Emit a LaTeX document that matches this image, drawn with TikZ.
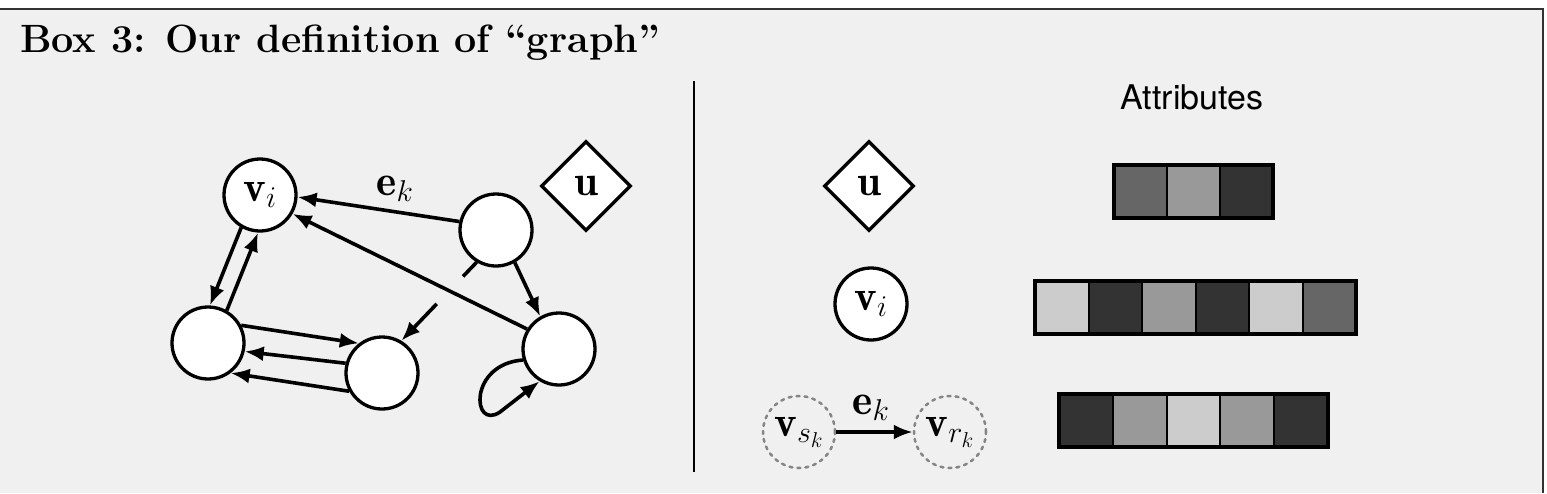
\RequirePackage{fix-cm}
\documentclass[tikz,border=0pt]{standalone}
\usepackage{fontspec}
\newfontfamily\attrfont{TeX Gyre Heros}
\usetikzlibrary{shapes.geometric,arrows.meta,calc}
\definecolor{bg}{HTML}{F0F0F0}
\definecolor{frame}{HTML}{333333}
\definecolor{gA}{HTML}{333333}
\definecolor{gB}{HTML}{666666}
\definecolor{gC}{HTML}{999999}
\definecolor{gD}{HTML}{CCCCCC}
\definecolor{dashgray}{HTML}{858585}
\newcommand{\mathsz}{\fontsize{43}{50}\selectfont}
\begin{document}
\begin{tikzpicture}[x=1pt,y=-1pt,
  vert/.style={circle,draw,fill=white,line width=3.3pt,minimum size=72pt,inner sep=0pt,font=\mathsz},
  glob/.style={diamond,draw,fill=white,line width=3.3pt,minimum width=90pt,minimum height=90pt,inner sep=0pt,font=\mathsz},
  ghost/.style={circle,draw=dashgray,line width=2.5pt,dash pattern=on 3pt off 5pt,line cap=round,minimum size=72pt,inner sep=0pt,font=\mathsz},
  edge/.style={line width=3.6pt,-{Latex[length=19pt,width=15pt]}},
  plain/.style={line width=3.6pt},
  lbl/.style={font=\mathsz,inner sep=0pt,anchor=base},
  cell/.style={draw=black,line width=2pt},
  bar/.style={draw=black,line width=3.3pt}
]
\useasboundingbox (0,0) rectangle (1547,493);
% background box
\fill[bg] (0,9) rectangle (1543,493);
\draw[frame,line width=1.5pt] (0,9) -- (1543,9) -- (1543,493);
% title
\node[anchor=base west,inner sep=0pt] (title) at (20,52) {\fontsize{39.5}{45}\selectfont\bfseries Box 3: Our definition of “graph”};
% divider
\draw[line width=2pt] (694,81) -- (694,472);
% Attributes heading
\node[anchor=base,inner sep=0pt] (attr) at (1192,109) {\attrfont\fontsize{34}{40}\selectfont Attributes};

% ---------- left graph ----------
\node[vert] (n1) at (260,195) {$\mathbf{v}_i$};
\node[vert] (n2) at (496,230) {};
\node[vert] (n3) at (208,343) {};
\node[vert] (n4) at (382,373) {};
\node[vert] (n5) at (559,349) {};
\node[glob] (gu) at (586,186) {$\mathbf{u}$};

% edge n2 -> n4 with a gap where it crosses n5 -> n1
\coordinate (gapA) at ($(n2.239)!0.18!(n4.59)$);
\coordinate (gapB) at ($(n2.239)!0.53!(n4.59)$);
\draw[plain] (n2.239) -- (gapA);
\draw[edge] (gapB) -- (n4.59);

\draw[edge] (n2.167) -- (n1.357);
\node[lbl] (ek) at (395,195) {$\mathbf{e}_k$};
\draw[edge] (n5.148) -- (n1.330);
\draw[edge] (n2.300) -- (n5.120);
\draw[edge] (n1.240) -- (n3.87);
\draw[edge] (n3.60) -- (n1.267);
\draw[edge] (n3.28) -- (n4.128);
\draw[edge] (n4.165) -- (n3.347);
\draw[edge] (n4.209) -- (n3.307);
\draw[edge] (n5.197) .. controls (468,364) and (472,431) .. (500,412) -- (n5.239);

% ---------- right panel ----------
\node[glob] (ru) at (869,186) {$\mathbf{u}$};
\node[vert] (rv) at (871,304) {$\mathbf{v}_i$};
\node[ghost] (vs) at (799,432) {$\mathbf{v}_{s_k}$};
\node[ghost] (vr) at (950,432) {$\mathbf{v}_{r_k}$};
\draw[edge] (vs.east) -- (vr.west);
\node[lbl] (ek2) at (871,414) {$\mathbf{e}_k$};

% attribute bars
\foreach \c [count=\i from 0] in {gB,gC,gA}
  \filldraw[cell,fill=\c] (1114+\i*53,165) rectangle ++(53,53);
\draw[bar] (1114,165) rectangle (1273,218);

\foreach \c [count=\i from 0] in {gD,gA,gC,gA,gD,gB}
  \filldraw[cell,fill=\c] (1035+\i*53.5,281) rectangle ++(53.5,53);
\draw[bar] (1035,281) rectangle (1356,334);

\foreach \c [count=\i from 0] in {gA,gC,gD,gC,gA}
  \filldraw[cell,fill=\c] (1059+\i*53.8,394) rectangle ++(53.8,53);
\draw[bar] (1059,394) rectangle (1328,447);
\end{tikzpicture}
\end{document}
